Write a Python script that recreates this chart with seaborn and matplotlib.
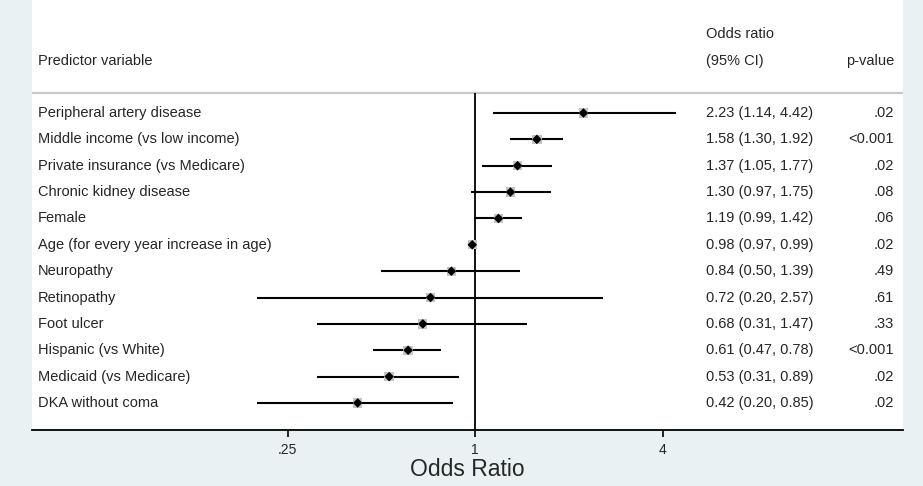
import numpy as np
import pandas as pd
import seaborn as sns
import matplotlib.pyplot as plt
import matplotlib.transforms as mtransforms

predictors = ["Peripheral artery disease", "Middle income (vs low income)",
              "Private insurance (vs Medicare)", "Chronic kidney disease", "Female",
              "Age (for every year increase in age)", "Neuropathy", "Retinopathy",
              "Foot ulcer", "Hispanic (vs White)", "Medicaid (vs Medicare)", "DKA without coma"]
odds = [2.23, 1.58, 1.37, 1.30, 1.19, 0.98, 0.84, 0.72, 0.68, 0.61, 0.53, 0.42]
lower = [1.14, 1.30, 1.05, 0.97, 0.99, 0.97, 0.50, 0.20, 0.31, 0.47, 0.31, 0.20]
upper = [4.42, 1.92, 1.77, 1.75, 1.42, 0.99, 1.39, 2.57, 1.47, 0.78, 0.89, 0.85]
pvals = [".02", "<0.001", ".02", ".08", ".06", ".02", ".49", ".61", ".33", "<0.001", ".02", ".02"]
ticks = [0.25, 1, 4]
tick_labels = [".25", "1", "4"]

df = pd.DataFrame({"predictor": predictors, "odds": odds, "lower": lower,
                   "upper": upper, "p": pvals})
df["row"] = np.arange(len(df))

sns.set_style("white")
plt.rcParams['font.family'] = ['Liberation Sans', 'DejaVu Sans']

W, H = 923, 486
fig = plt.figure(figsize=(9.23, 4.86), dpi=100)
fig.patch.set_facecolor('#E9F1F3')
ax = fig.add_axes([32 / W, (H - 430) / H, (903 - 32) / W, 430 / H])
ax.set_facecolor('white')

ax.set_xscale('log', base=4)
ax.set_xlim(4 ** ((32 - 475) / 187.5), 4 ** ((903 - 475) / 187.5))
step = 26.36
ax.set_ylim((430 - 113) / step, (0 - 113) / step)

# confidence intervals
ax.hlines(df["row"], df["lower"], df["upper"], color='black', lw=1.5, zorder=2)
# weight boxes + point estimates
sns.scatterplot(data=df, x="odds", y="row", marker='s', s=45, color='#C4C4C4',
                edgecolor='none', ax=ax, zorder=3)
sns.scatterplot(data=df, x="odds", y="row", marker='D', s=24, color='black',
                edgecolor='none', ax=ax, zorder=4)

line_y = (93 - 113) / step
ax.axhline(line_y, color='#C8C8C8', lw=1.6, zorder=1)
ax.vlines(1, line_y, ax.get_ylim()[0], color='black', lw=1.3, zorder=1)

trans = mtransforms.blended_transform_factory(ax.transAxes, ax.transData)
fs = 10.5
x_lab = (38 - 32) / (903 - 32)
x_or = (706 - 32) / (903 - 32)
x_p = (894 - 32) / (903 - 32)
for _, r in df.iterrows():
    ax.text(x_lab, r["row"], r["predictor"], transform=trans, ha='left', va='center', fontsize=fs)
    ax.text(x_or, r["row"], f'{r["odds"]:.2f} ({r["lower"]:.2f}, {r["upper"]:.2f})',
            transform=trans, ha='left', va='center', fontsize=fs)
    ax.text(x_p, r["row"], r["p"], transform=trans, ha='right', va='center', fontsize=fs)

hdr1 = (34 - 113) / step
hdr2 = (61 - 113) / step
ax.text(x_lab, hdr2, "Predictor variable", transform=trans, ha='left', va='center', fontsize=fs)
ax.text(x_or, hdr1, "Odds ratio", transform=trans, ha='left', va='center', fontsize=fs)
ax.text(x_or, hdr2, "(95% CI)", transform=trans, ha='left', va='center', fontsize=fs)
ax.text(x_p, hdr2, "p-value", transform=trans, ha='right', va='center', fontsize=fs)

for s in ['top', 'left', 'right']:
    ax.spines[s].set_visible(False)
ax.spines['bottom'].set_color('black')
ax.spines['bottom'].set_linewidth(1.3)
ax.set_yticks([])
ax.set_xticks(ticks)
ax.set_xticklabels(tick_labels, fontsize=10)
ax.xaxis.set_minor_locator(plt.NullLocator())
ax.tick_params(axis='x', direction='out', length=5, width=1.2, color='black', pad=4, bottom=True)
ax.set_xlabel("Odds Ratio", fontsize=16.5, labelpad=1)
ax.set_ylabel("")

fig.savefig("out.png", dpi=100, facecolor=fig.get_facecolor())
